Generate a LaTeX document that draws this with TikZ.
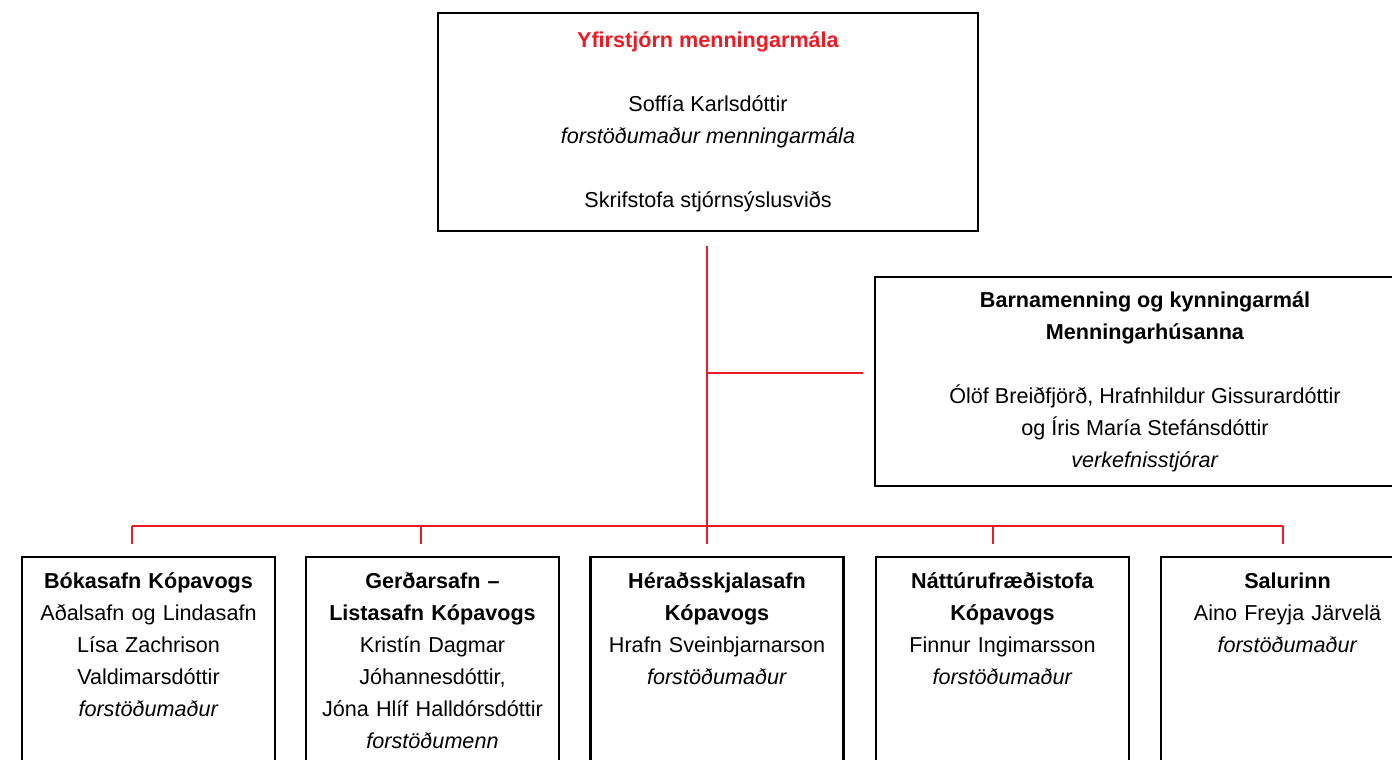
\documentclass[tikz,border=0pt]{standalone}
\usepackage{fontspec}
\setmainfont{Liberation Sans}
\definecolor{orgred}{RGB}{237,28,36}
\begin{document}
\begin{tikzpicture}[x=0.5pt, y=-0.5pt,
    box/.style = {draw, line width=1.1pt, inner sep=0pt, align=center, font=\fontsize{10.8}{16}\selectfont},
    unit/.style = {box, anchor=north, text width=126.5pt, text height=15.75pt, text depth=94pt},
    link/.style = {draw=orgred, line width=1pt}]
    \useasboundingbox (0,0) rectangle (1392,760);
    \clip (0,0) rectangle (1392,760);
    % top and side boxes
    \node[box, minimum width=270pt, minimum height=109pt] (top) at (708,122)
        {\textcolor{orgred}{\textbf{Yfirstjórn menningarmála}}\\[16pt]
         Soffía Karlsdóttir\\ \textit{forstöðumaður menningarmála}\\[16pt]
         Skrifstofa stjórnsýslusviðs};
    \node[box, minimum width=270pt, minimum height=104.5pt] (barn) at (1145,381.5)
        {\textbf{Barnamenning og kynningarmál}\\ \textbf{Menningarhúsanna}\\[16pt]
         Ólöf Breiðfjörð, Hrafnhildur Gissurardóttir\\ og Íris María Stefánsdóttir\\
         \textit{verkefnisstjórar}};
    % units
    \node[unit] (bok) at (148.5,556)
        {\textbf{Bókasafn Kópavogs}\\ Aðalsafn og Lindasafn\\ Lísa Zachrison\\ Valdimarsdóttir\\
         \textit{forstöðumaður}};
    \node[unit] (gerd) at (432.5,556)
        {\textbf{Gerðarsafn –}\\ \textbf{Listasafn Kópavogs}\\ Kristín Dagmar\\ Jóhannesdóttir,\\
         Jóna Hlíf Halldórsdóttir\\ \textit{forstöðumenn}};
    \node[unit] (her) at (717,556)
        {\textbf{Héraðsskjalasafn}\\ \textbf{Kópavogs}\\ Hrafn Sveinbjarnarson\\ \textit{forstöðumaður}};
    \node[unit] (nat) at (1002.5,556)
        {\textbf{Náttúrufræðistofa}\\ \textbf{Kópavogs}\\ Finnur Ingimarsson\\ \textit{forstöðumaður}};
    \node[unit] (sal) at (1287.5,556)
        {\textbf{Salurinn}\\ Aino Freyja Järvelä\\ \textit{forstöðumaður}};
    % lines
    \coordinate (trunk) at (707,246);
    \coordinate (fork) at (707,373);
    \coordinate (rail) at (707,526);
    \draw[link] (trunk) -- (rail) -- ++(0,18);
    \draw[link] (fork) -- ([xshift=-5.5pt]fork -| barn.west);
    \draw[link] (132,526) -- (1283,526);
    \foreach \n/\x in {bok/132, gerd/421, nat/993, sal/1283}{
        \coordinate (\n-tick) at (\x,526);
        \draw[link] (\n-tick) -- ++(0,18);
    }
\end{tikzpicture}
\end{document}
